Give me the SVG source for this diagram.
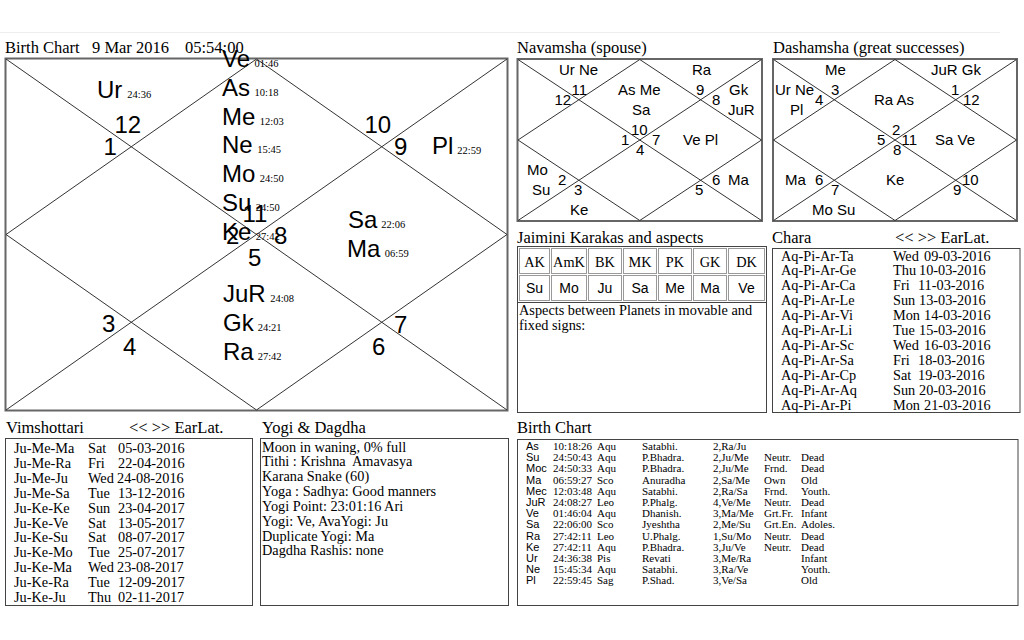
<svg xmlns="http://www.w3.org/2000/svg" width="1024" height="640" viewBox="0 0 1024 640">
<style>
.t{font-family:"Liberation Serif",serif;font-size:16.5px;fill:#000}
.s{font-family:"Liberation Serif",serif;font-size:14.3px;fill:#000}
.xs{font-family:"Liberation Serif",serif;font-size:11px;fill:#000}
.nm{font-family:"Liberation Sans",sans-serif;font-size:11px;fill:#000}
.pl{font-family:"Liberation Sans",sans-serif;font-size:24px;fill:#000}
.deg{font-family:"Liberation Serif",serif;font-size:10.5px}
.ch{font-family:"Liberation Sans",sans-serif;font-size:15px;fill:#000}
.ln{stroke:#333;stroke-width:1;fill:none}
.fr{stroke:#666;stroke-width:2;fill:none}
.bx{stroke:#444;stroke-width:1;fill:none}
.cell{stroke:#999;stroke-width:1;fill:none}
.c{text-anchor:middle}
.pre{white-space:pre}
</style>
<rect width="1024" height="640" fill="#fff"/>
<line x1="0" y1="32.5" x2="1000" y2="32.5" stroke="#eee" stroke-width="1"/>

<g id="birth-chart">
<text class="t" x="5" y="53">Birth Chart</text>
<text class="t" x="92" y="53">9 Mar 2016</text>
<text class="t" x="185" y="53">05:54:00</text>
<rect class="fr" x="5.5" y="58.5" width="502" height="352"/>
<path class="ln" d="M6,59 L507,410 M507,59 L6,410 M256.5,59 L507,234.5 L256.5,410 L6,234.5 Z"/>
<g class="pl">
<text x="97" y="98">Ur<tspan class="deg" dx="5">24:36</tspan></text>
<text x="114.5" y="133">12</text>
<text x="103.5" y="155">1</text>
<text x="222" y="67">Ve<tspan class="deg" dx="4.5">01:46</tspan></text>
<text x="222" y="95.75">As<tspan class="deg" dx="4.5">10:18</tspan></text>
<text x="222" y="124.5">Me<tspan class="deg" dx="4.5">12:03</tspan></text>
<text x="222" y="153.25">Ne<tspan class="deg" dx="4.5">15:45</tspan></text>
<text x="222" y="182">Mo<tspan class="deg" dx="4.5">24:50</tspan></text>
<text x="222" y="210.75">Su<tspan class="deg" dx="4.5">24:50</tspan></text>
<text x="222" y="239.5">Ke<tspan class="deg" dx="4.5">27:42</tspan></text>
<text x="242.5" y="222">11</text>
<text x="226" y="244">2</text>
<text x="274" y="244">8</text>
<text x="248" y="266">5</text>
<text x="364.5" y="133">10</text>
<text x="394" y="155">9</text>
<text x="432" y="154">Pl<tspan class="deg" dx="4">22:59</tspan></text>
<text x="348" y="228">Sa<tspan class="deg" dx="4">22:06</tspan></text>
<text x="347" y="257">Ma<tspan class="deg" dx="4.5">06:59</tspan></text>
<text x="223" y="302">JuR<tspan class="deg" dx="4.5">24:08</tspan></text>
<text x="223" y="331">Gk<tspan class="deg" dx="4">24:21</tspan></text>
<text x="223" y="360">Ra<tspan class="deg" dx="4">27:42</tspan></text>
<text x="102" y="332">3</text>
<text x="123" y="355">4</text>
<text x="394" y="333">7</text>
<text x="372" y="355">6</text>
</g>
</g>

<g id="navamsha">
<text class="t" x="517" y="53">Navamsha (spouse)</text>
<rect class="fr" x="517.5" y="59" width="244.5" height="162"/>
<path class="ln" d="M518,59.5 L761.5,220.5 M761.5,59.5 L518,220.5 M639.75,59.5 L761.5,140 L639.75,220.5 L518,140 Z"/>
<g class="ch">
<text x="559" y="75">Ur Ne</text>
<text x="571.5" y="95">11</text>
<text x="554.5" y="105">12</text>
<text x="618" y="95">As Me</text>
<text x="632" y="115">Sa</text>
<text x="692" y="75">Ra</text>
<text x="696" y="95">9</text>
<text x="712" y="105">8</text>
<text x="729" y="95">Gk</text>
<text x="728" y="115">JuR</text>
<text x="631" y="135">10</text>
<text x="621" y="145">1</text>
<text x="652" y="145">7</text>
<text x="636" y="155">4</text>
<text x="683" y="145">Ve Pl</text>
<text x="527" y="175">Mo</text>
<text x="558" y="185">2</text>
<text x="532" y="195">Su</text>
<text x="574" y="195">3</text>
<text x="570" y="215">Ke</text>
<text x="712" y="185">6</text>
<text x="728" y="185">Ma</text>
<text x="695" y="195">5</text>
</g>
</g>

<g id="dashamsha">
<text class="t" x="773" y="53">Dashamsha (great successes)</text>
<rect class="fr" x="773" y="59" width="244" height="162"/>
<path class="ln" d="M773.5,59.5 L1016.5,220.5 M1016.5,59.5 L773.5,220.5 M895,59.5 L1016.5,140 L895,220.5 L773.5,140 Z"/>
<g class="ch">
<text x="825" y="75">Me</text>
<text x="931" y="75">JuR Gk</text>
<text x="775" y="95">Ur Ne</text>
<text x="831" y="95">3</text>
<text x="815" y="105">4</text>
<text x="790" y="115">Pl</text>
<text x="874" y="105">Ra As</text>
<text x="951" y="95">1</text>
<text x="963" y="105">12</text>
<text x="892" y="135">2</text>
<text x="877" y="145">5</text>
<text x="901.5" y="145">11</text>
<text x="893" y="155">8</text>
<text x="935" y="145">Sa Ve</text>
<text x="785" y="185">Ma</text>
<text x="815" y="185">6</text>
<text x="831" y="195">7</text>
<text x="886" y="185">Ke</text>
<text x="953" y="195">9</text>
<text x="962" y="185">10</text>
<text x="812" y="215">Mo Su</text>
</g>
</g>

<g id="jaimini">
<text class="t" x="517" y="243">Jaimini Karakas and aspects</text>
<rect class="bx" x="517.5" y="246.5" width="249" height="166"/>
<g>
<rect class="cell" x="519.5" y="248.5" width="30" height="25"/>
<rect class="cell" x="551.5" y="248.5" width="35" height="25"/>
<rect class="cell" x="588.5" y="248.5" width="33" height="25"/>
<rect class="cell" x="623.5" y="248.5" width="33" height="25"/>
<rect class="cell" x="658.5" y="248.5" width="33" height="25"/>
<rect class="cell" x="693.5" y="248.5" width="33" height="25"/>
<rect class="cell" x="728.5" y="248.5" width="36" height="25"/>
<rect class="cell" x="519.5" y="275.5" width="30" height="25"/>
<rect class="cell" x="551.5" y="275.5" width="35" height="25"/>
<rect class="cell" x="588.5" y="275.5" width="33" height="25"/>
<rect class="cell" x="623.5" y="275.5" width="33" height="25"/>
<rect class="cell" x="658.5" y="275.5" width="33" height="25"/>
<rect class="cell" x="693.5" y="275.5" width="33" height="25"/>
<rect class="cell" x="728.5" y="275.5" width="36" height="25"/>
<line x1="517.5" y1="302.5" x2="766.5" y2="302.5" class="bx"/>
</g>
<g class="s c">
<text x="534.5" y="267">AK</text>
<text x="569" y="267">AmK</text>
<text x="605" y="267">BK</text>
<text x="640" y="267">MK</text>
<text x="675" y="267">PK</text>
<text x="710" y="267">GK</text>
<text x="746.5" y="267">DK</text>
</g>
<g class="ch c" style="font-size:14px">
<text x="534.5" y="293">Su</text>
<text x="569" y="293">Mo</text>
<text x="605" y="293">Ju</text>
<text x="640" y="293">Sa</text>
<text x="675" y="293">Me</text>
<text x="710" y="293">Ma</text>
<text x="746.5" y="293">Ve</text>
</g>
<text class="s" x="519" y="315">Aspects between Planets in movable and</text>
<text class="s" x="519" y="330">fixed signs:</text>
</g>

<g id="chara">
<text class="t" x="772" y="243">Chara</text>
<text class="t" x="895" y="243">&lt;&lt; &gt;&gt; EarLat.</text>
<rect class="bx" x="772.5" y="248.5" width="247.5" height="164"/>
<g class="s">
<text x="781" y="260.5">Aq-Pi-Ar-Ta</text><text x="893" y="260.5">Wed</text><text x="924" y="260.5">09-03-2016</text>
<text x="781" y="275.4">Aq-Pi-Ar-Ge</text><text x="893" y="275.4">Thu</text><text x="919" y="275.4">10-03-2016</text>
<text x="781" y="290.3">Aq-Pi-Ar-Ca</text><text x="893" y="290.3">Fri</text><text x="918" y="290.3">11-03-2016</text>
<text x="781" y="305.2">Aq-Pi-Ar-Le</text><text x="893" y="305.2">Sun</text><text x="919" y="305.2">13-03-2016</text>
<text x="781" y="320.1">Aq-Pi-Ar-Vi</text><text x="893" y="320.1">Mon</text><text x="924" y="320.1">14-03-2016</text>
<text x="781" y="335">Aq-Pi-Ar-Li</text><text x="893" y="335">Tue</text><text x="919" y="335">15-03-2016</text>
<text x="781" y="349.9">Aq-Pi-Ar-Sc</text><text x="893" y="349.9">Wed</text><text x="924" y="349.9">16-03-2016</text>
<text x="781" y="364.8">Aq-Pi-Ar-Sa</text><text x="893" y="364.8">Fri</text><text x="918" y="364.8">18-03-2016</text>
<text x="781" y="379.7">Aq-Pi-Ar-Cp</text><text x="893" y="379.7">Sat</text><text x="918" y="379.7">19-03-2016</text>
<text x="781" y="394.6">Aq-Pi-Ar-Aq</text><text x="893" y="394.6">Sun</text><text x="919" y="394.6">20-03-2016</text>
<text x="781" y="409.5">Aq-Pi-Ar-Pi</text><text x="893" y="409.5">Mon</text><text x="924" y="409.5">21-03-2016</text>
</g>
</g>

<g id="vimshottari">
<text class="t" x="6" y="433">Vimshottari</text>
<text class="t" x="129" y="433">&lt;&lt; &gt;&gt; EarLat.</text>
<rect class="bx" x="5.5" y="438.5" width="247" height="167"/>
<g class="s">
<text x="14" y="453">Ju-Me-Ma</text><text x="88" y="453">Sat</text><text x="118" y="453">05-03-2016</text>
<text x="14" y="467.9">Ju-Me-Ra</text><text x="88" y="467.9">Fri</text><text x="118" y="467.9">22-04-2016</text>
<text x="14" y="482.8">Ju-Me-Ju</text><text x="88" y="482.8">Wed</text><text x="117" y="482.8">24-08-2016</text>
<text x="14" y="497.7">Ju-Me-Sa</text><text x="88" y="497.7">Tue</text><text x="118" y="497.7">13-12-2016</text>
<text x="14" y="512.6">Ju-Ke-Ke</text><text x="88" y="512.6">Sun</text><text x="118" y="512.6">23-04-2017</text>
<text x="14" y="527.5">Ju-Ke-Ve</text><text x="88" y="527.5">Sat</text><text x="118" y="527.5">13-05-2017</text>
<text x="14" y="542.4">Ju-Ke-Su</text><text x="88" y="542.4">Sat</text><text x="118" y="542.4">08-07-2017</text>
<text x="14" y="557.3">Ju-Ke-Mo</text><text x="88" y="557.3">Tue</text><text x="118" y="557.3">25-07-2017</text>
<text x="14" y="572.2">Ju-Ke-Ma</text><text x="88" y="572.2">Wed</text><text x="117" y="572.2">23-08-2017</text>
<text x="14" y="587.1">Ju-Ke-Ra</text><text x="88" y="587.1">Tue</text><text x="118" y="587.1">12-09-2017</text>
<text x="14" y="602">Ju-Ke-Ju</text><text x="88" y="602">Thu</text><text x="118" y="602">02-11-2017</text>
</g>
</g>

<g id="yogi-dagdha">
<text class="t" x="262" y="433">Yogi &amp; Dagdha</text>
<rect class="bx" x="260.5" y="438.5" width="248" height="167"/>
<g class="s">
<text x="262" y="451.5">Moon in waning, 0% full</text>
<text class="pre" x="262" y="466.35">Tithi : Krishna  Amavasya</text>
<text x="262" y="481.2">Karana Snake (60)</text>
<text x="262" y="496.05">Yoga : Sadhya: Good manners</text>
<text x="262" y="510.9">Yogi Point: 23:01:16 Ari</text>
<text x="262" y="525.75">Yogi: Ve, AvaYogi: Ju</text>
<text x="262" y="540.6">Duplicate Yogi: Ma</text>
<text x="262" y="555.45">Dagdha Rashis: none</text>
</g>
</g>

<g id="birth-table">
<text class="t" x="517" y="433">Birth Chart</text>
<rect class="bx" x="517.5" y="439.5" width="500.5" height="166"/>
<g class="nm">
<text x="526" y="450">As</text>
<text x="526" y="461.2">Su</text>
<text x="526" y="472.4">Moc</text>
<text x="526" y="483.6">Ma</text>
<text x="526" y="494.8">Mec</text>
<text x="526" y="506">JuR</text>
<text x="526" y="517.2">Ve</text>
<text x="526" y="528.4">Sa</text>
<text x="526" y="539.6">Ra</text>
<text x="526" y="550.8">Ke</text>
<text x="526" y="562">Ur</text>
<text x="526" y="573.2">Ne</text>
<text x="526" y="584.4">Pl</text>
</g>
<g class="xs">
<text x="553" y="450">10:18:26</text><text x="597" y="450">Aqu</text><text x="642" y="450">Satabhi.</text><text x="713" y="450">2,Ra/Ju</text>
<text x="553" y="461.2">24:50:43</text><text x="597" y="461.2">Aqu</text><text x="642" y="461.2">P.Bhadra.</text><text x="713" y="461.2">2,Ju/Me</text><text x="764" y="461.2">Neutr.</text><text x="801" y="461.2">Dead</text>
<text x="553" y="472.4">24:50:33</text><text x="597" y="472.4">Aqu</text><text x="642" y="472.4">P.Bhadra.</text><text x="713" y="472.4">2,Ju/Me</text><text x="764" y="472.4">Frnd.</text><text x="801" y="472.4">Dead</text>
<text x="553" y="483.6">06:59:27</text><text x="597" y="483.6">Sco</text><text x="642" y="483.6">Anuradha</text><text x="713" y="483.6">2,Sa/Me</text><text x="764" y="483.6">Own</text><text x="801" y="483.6">Old</text>
<text x="553" y="494.8">12:03:48</text><text x="597" y="494.8">Aqu</text><text x="642" y="494.8">Satabhi.</text><text x="713" y="494.8">2,Ra/Sa</text><text x="764" y="494.8">Frnd.</text><text x="801" y="494.8">Youth.</text>
<text x="553" y="506">24:08:27</text><text x="597" y="506">Leo</text><text x="642" y="506">P.Phalg.</text><text x="713" y="506">4,Ve/Me</text><text x="764" y="506">Neutr.</text><text x="801" y="506">Dead</text>
<text x="553" y="517.2">01:46:04</text><text x="597" y="517.2">Aqu</text><text x="642" y="517.2">Dhanish.</text><text x="713" y="517.2">3,Ma/Me</text><text x="764" y="517.2">Grt.Fr.</text><text x="801" y="517.2">Infant</text>
<text x="553" y="528.4">22:06:00</text><text x="597" y="528.4">Sco</text><text x="642" y="528.4">Jyeshtha</text><text x="713" y="528.4">2,Me/Su</text><text x="764" y="528.4">Grt.En.</text><text x="801" y="528.4">Adoles.</text>
<text x="553" y="539.6">27:42:11</text><text x="597" y="539.6">Leo</text><text x="642" y="539.6">U.Phalg.</text><text x="713" y="539.6">1,Su/Mo</text><text x="764" y="539.6">Neutr.</text><text x="801" y="539.6">Dead</text>
<text x="553" y="550.8">27:42:11</text><text x="597" y="550.8">Aqu</text><text x="642" y="550.8">P.Bhadra.</text><text x="713" y="550.8">3,Ju/Ve</text><text x="764" y="550.8">Neutr.</text><text x="801" y="550.8">Dead</text>
<text x="553" y="562">24:36:38</text><text x="597" y="562">Pis</text><text x="642" y="562">Revati</text><text x="713" y="562">3,Me/Ra</text><text x="801" y="562">Infant</text>
<text x="553" y="573.2">15:45:34</text><text x="597" y="573.2">Aqu</text><text x="642" y="573.2">Satabhi.</text><text x="713" y="573.2">3,Ra/Ve</text><text x="801" y="573.2">Youth.</text>
<text x="553" y="584.4">22:59:45</text><text x="597" y="584.4">Sag</text><text x="642" y="584.4">P.Shad.</text><text x="713" y="584.4">3,Ve/Sa</text><text x="801" y="584.4">Old</text>
</g>
</g>
<g id="connectors"/>
</svg>
